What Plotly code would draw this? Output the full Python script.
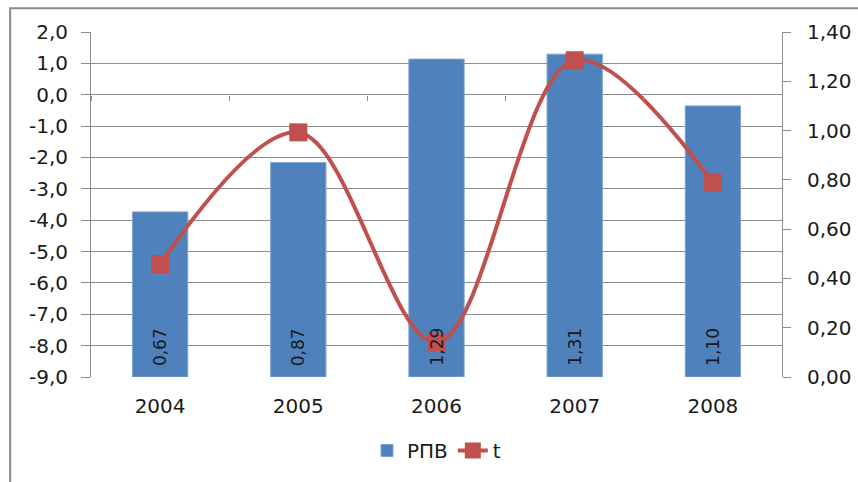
import plotly.graph_objects as go

years = ["2004", "2005", "2006", "2007", "2008"]
rpv = [0.67, 0.87, 1.29, 1.31, 1.10]
t_vals = [-5.4, -1.2, -7.9, 1.1, -2.8]

left_range = [-9.0, 2.0]
right_range = [0.0, 1.4]
left_ticks = [-9, -8, -7, -6, -5, -4, -3, -2, -1, 0, 1, 2]
right_ticks = [0.0, 0.2, 0.4, 0.6, 0.8, 1.0, 1.2, 1.4]


def comma(v, digits):
    return f"{v:.{digits}f}".replace(".", ",")


BLUE = "#4F81BD"
RED = "#C0504D"
GRID = "#8C8C8C"
TXT = "#1a1a1a"
FONT = "DejaVu Sans"
FS = 20

fig = go.Figure()

fig.add_trace(go.Bar(
    x=years, y=rpv, name="РПВ",
    marker=dict(color=BLUE, line=dict(color="#7FA3D0", width=1)),
    width=0.4,
    xaxis="x", yaxis="y",
))

fig.add_trace(go.Scatter(
    x=years, y=t_vals, name="t", mode="lines+markers",
    line=dict(color=RED, width=4, shape="spline", smoothing=1.0),
    marker=dict(symbol="square", size=18, color=RED),
    xaxis="x2", yaxis="y2",
))

# value labels at the base of each bar, drawn above the line
annotations = [
    dict(x=i, y=0, xref="x", yref="y", text=comma(v, 2),
         textangle=-90, showarrow=False, yanchor="bottom", yshift=9,
         font=dict(family=FONT, size=17, color=TXT))
    for i, v in enumerate(rpv)
]

# position of the zero level of the left axis, used for the category axis ticks
zero_pos = (0 - left_range[0]) / (left_range[1] - left_range[0])

fig.update_layout(
    width=858, height=482,
    margin=dict(l=91, r=76, t=32, b=103),
    paper_bgcolor="white", plot_bgcolor="white",
    font=dict(family=FONT, size=FS, color=TXT),
    annotations=annotations,
    xaxis=dict(
        type="category", range=[-0.5, 4.5], automargin=False,
        showgrid=False, showline=False, zeroline=False,
        ticks="outside", ticklen=11, tickcolor="rgba(0,0,0,0)",
        tickfont=dict(family=FONT, size=FS, color=TXT),
    ),
    xaxis2=dict(
        type="category", range=[-0.5, 4.5], overlaying="x", automargin=False,
        anchor="free", position=zero_pos, side="bottom",
        tickson="boundaries", ticks="outside", ticklen=5,
        tickcolor=GRID, tickwidth=1,
        showticklabels=False, showgrid=False, showline=False, zeroline=False,
    ),
    yaxis=dict(
        side="right", range=right_range, automargin=False,
        tickvals=right_ticks, ticktext=[comma(v, 2) for v in right_ticks],
        showgrid=False, zeroline=False,
        showline=True, linecolor=GRID, linewidth=1,
        ticks="outside", ticklen=8, tickcolor=GRID, ticklabelstandoff=12,
        tickfont=dict(family=FONT, size=FS, color=TXT),
    ),
    yaxis2=dict(
        side="left", overlaying="y", anchor="x", automargin=False,
        range=left_range,
        tickvals=left_ticks, ticktext=[comma(v, 1) for v in left_ticks],
        showgrid=True, gridcolor=GRID, gridwidth=1, zeroline=False,
        showline=True, linecolor=GRID, linewidth=1,
        ticks="outside", ticklen=9, tickcolor=GRID, ticklabelstandoff=9,
        tickfont=dict(family=FONT, size=FS, color=TXT),
    ),
    legend=dict(
        orientation="h", x=0.5, xanchor="center", y=-0.213, yanchor="middle",
        font=dict(family=FONT, size=FS, color=TXT),
        bgcolor="rgba(0,0,0,0)",
    ),
    shapes=[dict(
        type="rect", xref="paper", yref="paper",
        x0=-0.117, x1=2.0, y0=-1.0, y1=1.069,
        line=dict(color="#8A8A8A", width=2), fillcolor="rgba(0,0,0,0)",
        layer="below",
    )],
)

fig.write_html("out.html")
